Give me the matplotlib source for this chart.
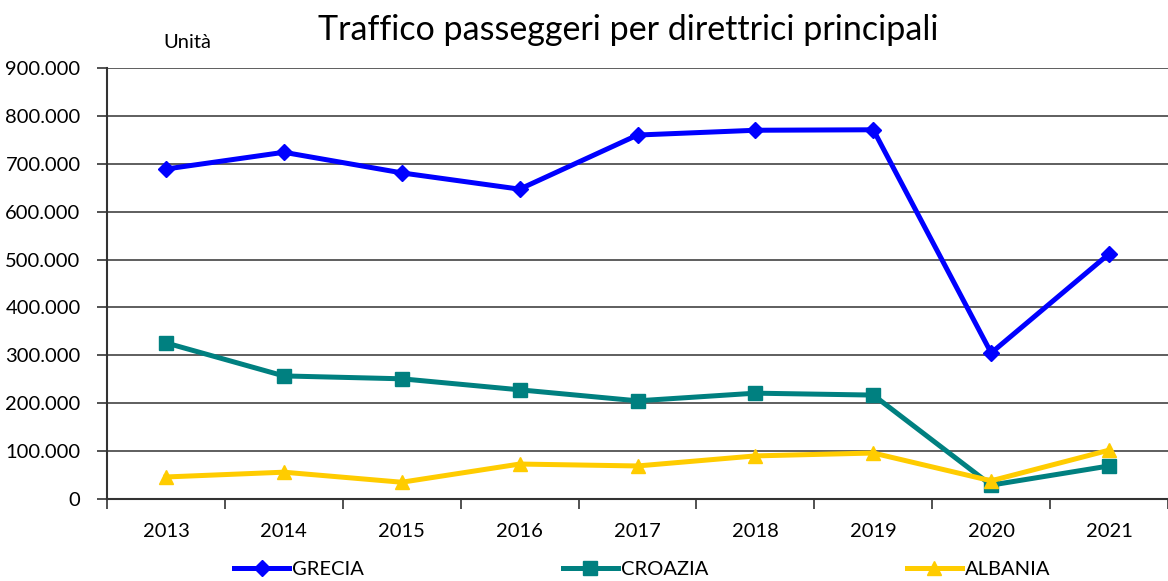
import matplotlib
matplotlib.use("Agg")
import matplotlib.pyplot as plt
from matplotlib.ticker import FuncFormatter, FixedLocator

years = ["2013", "2014", "2015", "2016", "2017", "2018", "2019", "2020", "2021"]
grecia = [689000, 724000, 681000, 647000, 760000, 770000, 771000, 305000, 512000]
croazia = [326000, 257000, 251000, 228000, 205000, 221000, 217000, 29000, 69000]
albania = [46000, 56000, 35000, 73000, 69000, 90000, 96000, 38000, 102000]

title = "Traffico passeggeri per direttrici principali"
unit_label = "Unità"

plt.rcParams['font.family'] = ['Lato', 'DejaVu Sans']

fig = plt.figure(figsize=(11.68, 5.81), dpi=100)
ax = fig.add_axes([107/1168, 82/581, 1 - 107/1168, 431/581])

x = list(range(len(years)))
ax.plot(x, grecia, color='#0000FF', lw=3.6, marker='D', ms=8, label='GRECIA', zorder=5)
ax.plot(x, croazia, color='#008080', lw=3.6, marker='s', ms=9.5, label='CROAZIA', zorder=4)
ax.plot(x, albania, color='#FFCC00', lw=3.6, marker='^', ms=10.5, label='ALBANIA', zorder=6)

ax.set_xlim(-0.5, len(years) - 0.5)
ax.set_ylim(0, 900000)
ax.set_yticks(range(0, 900001, 100000))
ax.yaxis.set_major_formatter(FuncFormatter(lambda v, p: f"{int(v):,}".replace(",", ".")))
ax.xaxis.set_major_locator(FixedLocator([i - 0.5 for i in range(len(years) + 1)]))
ax.xaxis.set_major_formatter(FuncFormatter(lambda v, p: ""))
ax.xaxis.set_minor_locator(FixedLocator(x))
ax.set_xticklabels(years, minor=True)
ax.tick_params(axis='x', which='minor', length=0, pad=17, labelsize=14.5)
ax.tick_params(axis='x', which='major', length=7, width=1.2, color='#333333', direction='out')
ax.tick_params(axis='y', length=7, width=1.2, color='#333333', labelsize=14.5, pad=12)

ax.grid(axis='y', color='#333333', lw=1.1)
ax.set_axisbelow(True)
for s in ['top', 'right']:
    ax.spines[s].set_visible(False)
ax.spines['left'].set_color('#333333')
ax.spines['left'].set_linewidth(1.5)
ax.spines['bottom'].set_color('#333333')
ax.spines['bottom'].set_linewidth(1.5)

fig.text(628/1168, 1 - 30/581, title, ha='center', va='center', fontsize=24.5)
fig.text(187/1168, 1 - 42/581, unit_label, ha='center', va='center', fontsize=14.5)

leg = fig.legend(loc='center left', bbox_to_anchor=(234/1168, 1 - 569/581), ncol=3,
                 frameon=False, fontsize=14.5, handlelength=2.75, handletextpad=0.15,
                 columnspacing=9.85, borderaxespad=0, borderpad=0)

fig.savefig("out.png", dpi=100)
